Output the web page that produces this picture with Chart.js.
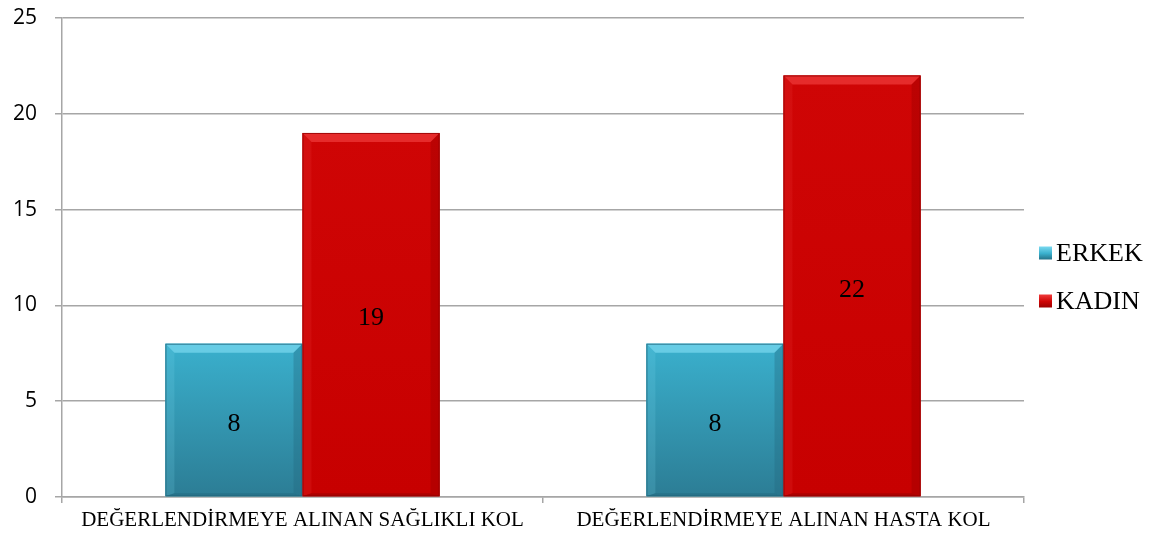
<!DOCTYPE html>
<html>
<head>
<meta charset="utf-8">
<script src="https://cdn.jsdelivr.net/npm/chart.js@4/dist/chart.umd.min.js"></script>
<style>
  html, body { margin: 0; padding: 0; background: #fff; }
  #wrap { width: 1167px; height: 539px; }
</style>
</head>
<body>
<div id="wrap"><canvas id="grafica"></canvas></div>
<script>
const kategoriler = ["DEĞERLENDİRMEYE ALINAN SAĞLIKLI KOL", "DEĞERLENDİRMEYE ALINAN HASTA KOL"];
const erkek = [8, 8];
const kadin = [19, 22];
const yTicks = [0, 5, 10, 15, 20, 25];

const gridRenk = "#a6a6a6";
const serif = "'Liberation Serif', 'Times New Roman', serif";

// renk seti: gövde üst/alt, kabartma açık/koyu
const paletler = [
  { ust: "#3ab0cd", alt: "#2c7d95", acik: "#7ad9f0", koyu: "#22687d" },
  { ust: "#cf0505", alt: "#c70000", acik: "#f03c3c", koyu: "#940000" }
];

// çubuk gövdesi (çubuğun kendi yüksekliğine göre geçişli) ve kabartma kenarları
const kabartma = {
  id: "kabartma",
  afterDatasetsDraw(chart) {
    const c = chart.ctx;
    chart.data.datasets.forEach((ds, i) => {
      const p = paletler[i];
      chart.getDatasetMeta(i).data.forEach(bar => {
        const L = bar.x - bar.width / 2, R = bar.x + bar.width / 2;
        const T = bar.y, B = bar.base, k = 9;
        c.save();
        const g = c.createLinearGradient(0, T, 0, B);
        g.addColorStop(0, p.ust);
        g.addColorStop(1, p.alt);
        c.fillStyle = g;
        c.fillRect(L, T, R - L, B - T);
        // üst
        c.fillStyle = p.acik;
        c.globalAlpha = 0.7;
        c.beginPath(); c.moveTo(L, T); c.lineTo(R, T); c.lineTo(R - k, T + k); c.lineTo(L + k, T + k); c.closePath(); c.fill();
        // sol
        c.globalAlpha = 0.18;
        c.beginPath(); c.moveTo(L, T); c.lineTo(L + k, T + k); c.lineTo(L + k, B - 3); c.lineTo(L, B); c.closePath(); c.fill();
        // sağ
        c.fillStyle = p.koyu;
        c.globalAlpha = 0.35;
        c.beginPath(); c.moveTo(R, T); c.lineTo(R - k, T + k); c.lineTo(R - k, B - 3); c.lineTo(R, B); c.closePath(); c.fill();
        // alt
        c.globalAlpha = 0.5;
        c.beginPath(); c.moveTo(L, B); c.lineTo(L + k, B - 3); c.lineTo(R - k, B - 3); c.lineTo(R, B); c.closePath(); c.fill();
        c.globalAlpha = 0.8;
        c.strokeStyle = p.koyu;
        c.lineWidth = 1;
        c.strokeRect(L + 0.5, T + 0.5, bar.width - 1, B - T - 1);
        c.restore();
      });
    });
  }
};

// değer etiketleri çubuğun ortasında
const etiketler = {
  id: "etiketler",
  afterDatasetsDraw(chart) {
    const c = chart.ctx;
    c.save();
    c.font = "26px " + serif;
    c.fillStyle = "#000";
    c.textAlign = "center";
    c.textBaseline = "middle";
    chart.data.datasets.forEach((ds, i) => {
      chart.getDatasetMeta(i).data.forEach((bar, j) => {
        c.fillText(String(ds.data[j]), bar.x, (bar.y + bar.base) / 2 + 4);
      });
    });
    c.restore();
  }
};

// sağdaki açıklama
const aciklama = {
  id: "aciklama",
  afterDraw(chart) {
    const c = chart.ctx;
    const ca = chart.chartArea;
    const x = ca.right + 15;
    const orta = (ca.top + ca.bottom) / 2;
    c.save();
    c.font = "26px " + serif;
    c.textBaseline = "middle";
    chart.data.datasets.forEach((ds, i) => {
      const y = orta - 4 + i * 48;
      const p = paletler[i];
      const g = c.createLinearGradient(0, y - 7, 0, y + 7);
      g.addColorStop(0, p.acik);
      g.addColorStop(0.5, p.ust);
      g.addColorStop(1, p.koyu);
      c.fillStyle = g;
      c.fillRect(x, y - 7, 13, 13);
      c.fillStyle = "#000";
      c.fillText(ds.label, x + 17, y + 1);
    });
    c.restore();
  }
};

new Chart(document.getElementById("grafica"), {
  type: "bar",
  data: {
    labels: kategoriler,
    datasets: [
      { label: "ERKEK", data: erkek, backgroundColor: paletler[0].ust },
      { label: "KADIN", data: kadin, backgroundColor: paletler[1].ust }
    ]
  },
  options: {
    responsive: true,
    maintainAspectRatio: false,
    animation: false,
    layout: { padding: { left: 0, top: 18, right: 143, bottom: 0 } },
    plugins: { legend: { display: false }, tooltip: { enabled: false } },
    datasets: { bar: { categoryPercentage: 0.57, barPercentage: 1 } },
    scales: {
      x: {
        afterFit(s) { s.height = 42; },
        grid: { offset: true, drawOnChartArea: false, color: gridRenk, lineWidth: 1.5, tickLength: 6 },
        border: { color: gridRenk, width: 1.5 },
        ticks: { color: "#000", padding: 5, font: { family: serif, size: 21 } }
      },
      y: {
        min: 0,
        max: 25,
        afterFit(s) { s.width = 62; s.paddingTop = 0; s.paddingBottom = 0; },
        afterBuildTicks(s) { s.ticks = yTicks.map(v => ({ value: v })); },
        grid: { color: gridRenk, lineWidth: 1.5, tickLength: 7 },
        border: { color: gridRenk, width: 1.5 },
        ticks: { color: "#000", padding: 18, font: { family: "'Open Sans', sans-serif", size: 21 } }
      }
    }
  },
  plugins: [kabartma, etiketler, aciklama]
});
</script>
</body>
</html>
